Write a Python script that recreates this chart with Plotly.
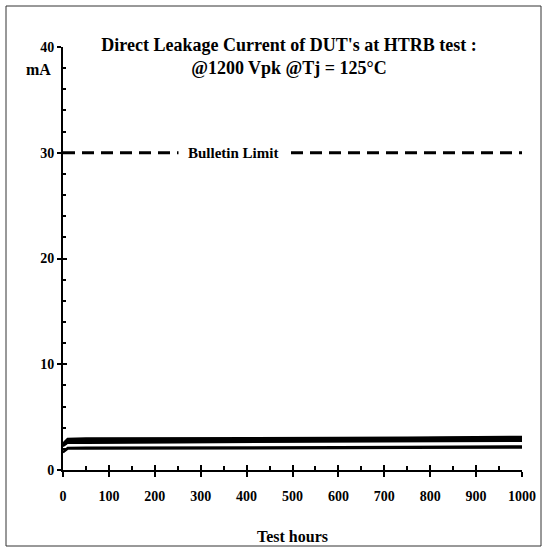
import plotly.graph_objects as go

# ---- data ----
hours = [0, 10, 50, 100, 168, 250, 336, 500, 600, 750, 875, 1000]
dut_a = [2.50, 2.95, 3.00, 3.00, 3.00, 3.00, 3.00, 3.02, 3.05, 3.08, 3.12, 3.15]
dut_b = [2.45, 2.85, 2.90, 2.90, 2.90, 2.92, 2.92, 2.95, 2.98, 3.00, 3.05, 3.08]
dut_c = [2.40, 2.75, 2.80, 2.80, 2.82, 2.82, 2.85, 2.88, 2.90, 2.92, 2.98, 3.00]
dut_d = [2.35, 2.70, 2.72, 2.72, 2.75, 2.75, 2.78, 2.80, 2.82, 2.85, 2.90, 2.92]
dut_e = [2.30, 2.60, 2.62, 2.65, 2.65, 2.68, 2.70, 2.72, 2.75, 2.78, 2.80, 2.82]
dut_f = [2.25, 2.55, 2.55, 2.58, 2.60, 2.60, 2.62, 2.65, 2.68, 2.70, 2.72, 2.75]
dut_g = [1.70, 2.10, 2.12, 2.12, 2.12, 2.13, 2.14, 2.15, 2.18, 2.20, 2.22, 2.25]
dut_h = [1.65, 2.00, 2.00, 2.00, 2.02, 2.03, 2.03, 2.05, 2.05, 2.08, 2.10, 2.10]
duts = [dut_a, dut_b, dut_c, dut_d, dut_e, dut_f, dut_g, dut_h]

limit_hours = [0, 1000]
limit_value = [30, 30]

x_ticks = [0, 100, 200, 300, 400, 500, 600, 700, 800, 900, 1000]
y_ticks = [0, 10, 20, 30, 40]

FONT = "Liberation Serif"
W, H = 547, 552
L, R, T, B = 63, 25, 47, 82
pw, ph = W - L - R, H - T - B

fig = go.Figure()

for d in duts:
    fig.add_trace(go.Scatter(x=hours, y=d, mode="lines",
                             line=dict(color="black", width=2),
                             showlegend=False, hoverinfo="skip"))

fig.add_trace(go.Scatter(x=limit_hours, y=limit_value, mode="lines",
                         line=dict(color="black", width=3, dash="12px,7px"),
                         showlegend=False, hoverinfo="skip"))

# invisible trace on overlay axes (inside ticks)
fig.add_trace(go.Scatter(x=[None], y=[None], xaxis="x2", yaxis="y2",
                         showlegend=False, hoverinfo="skip"))

tickfont = dict(family=FONT, size=14, color="black", weight="bold")

fig.update_layout(
    width=W, height=H,
    margin=dict(l=L, r=R, t=T, b=B),
    paper_bgcolor="white", plot_bgcolor="white",
    title=dict(text="Direct Leakage Current of DUT's at HTRB test :<br>@1200 Vpk @Tj = 125°C",
               x=(289) / W, xanchor="center", y=1 - 51 / H, yanchor="top",
               font=dict(family=FONT, size=18, color="black", weight="bold")),
    xaxis=dict(range=[0, 1000], tickvals=x_ticks, ticktext=[str(v) for v in x_ticks],
               ticks="outside", ticklen=5, tickwidth=2, tickcolor="black",
               showline=True, linewidth=2, linecolor="black",
               showgrid=False, zeroline=False, tickfont=tickfont,
               ticklabelstandoff=7, automargin=False,
               title=dict(text="Test hours", standoff=28,
                          font=dict(family=FONT, size=16, color="black", weight="bold"))),
    yaxis=dict(range=[0, 40], tickvals=y_ticks, ticktext=[str(v) for v in y_ticks],
               ticks="outside", ticklen=4, tickwidth=2, tickcolor="black",
               showline=True, linewidth=2, linecolor="black", automargin=False,
               showgrid=False, zeroline=False, tickfont=tickfont),
    xaxis2=dict(range=[0, 1000], overlaying="x", anchor="y2", side="bottom",
                tickvals=x_ticks, ticks="inside", ticklen=5, tickwidth=2, tickcolor="black",
                showticklabels=False, showline=False, showgrid=False, zeroline=False,
                automargin=False,
                minor=dict(ticks="inside", dtick=50, tick0=0, ticklen=4, tickwidth=2, tickcolor="black")),
    yaxis2=dict(range=[0, 40], overlaying="y", anchor="x2", side="left",
                tickvals=y_ticks, ticks="inside", ticklen=4, tickwidth=2, tickcolor="black",
                showticklabels=False, showline=False, showgrid=False, zeroline=False,
                automargin=False,
                minor=dict(ticks="inside", dtick=2, tick0=0, ticklen=3, tickwidth=2, tickcolor="black")),
    annotations=[
        dict(text="mA", xref="paper", yref="paper",
             x=(38 - L) / pw, y=(H - B - 70) / ph, xanchor="center", yanchor="middle",
             showarrow=False, font=dict(family=FONT, size=16, color="black", weight="bold")),
        dict(text="Bulletin Limit", xref="x", yref="y", x=(233 - L) / pw * 1000,
             y=30, xanchor="center", yanchor="middle", showarrow=False,
             bgcolor="white", borderpad=9,
             font=dict(family=FONT, size=15, color="black", weight="bold")),
    ],
    shapes=[
        dict(type="rect", xref="paper", yref="paper",
             x0=(6 - L) / pw, x1=(541 - L) / pw,
             y0=(H - B - 546) / ph, y1=(H - B - 6) / ph,
             line=dict(color="#333333", width=1), layer="below"),
    ],
)

fig.write_html("out.html")
